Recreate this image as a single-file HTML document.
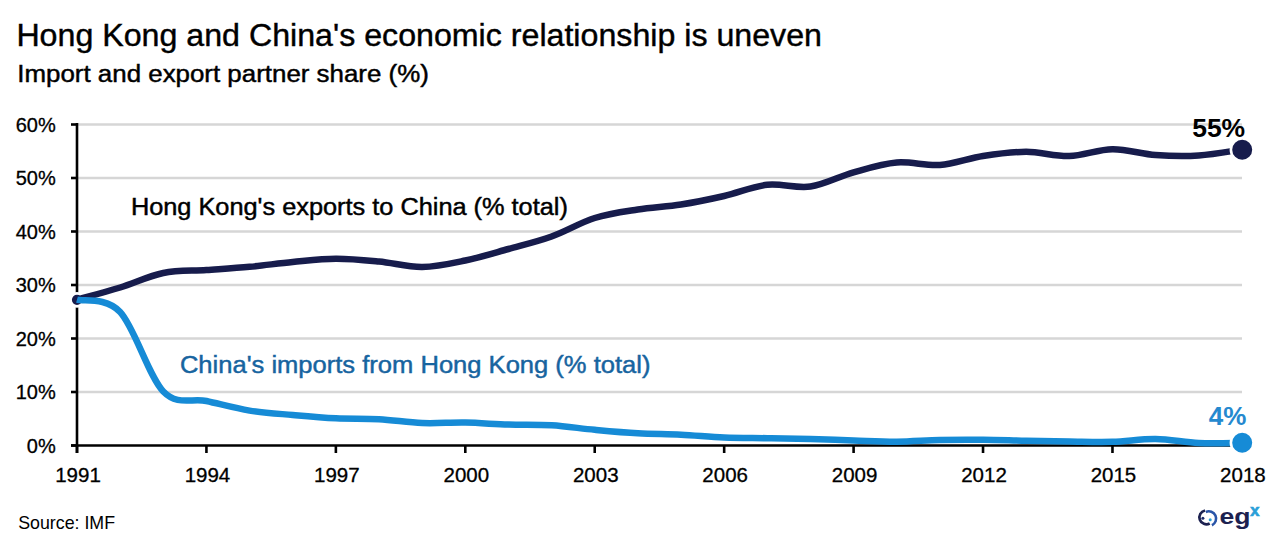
<!DOCTYPE html>
<html><head><meta charset="utf-8"><style>
html,body{margin:0;padding:0;background:#fff;}
body{width:1280px;height:547px;overflow:hidden;}
svg{display:block;font-family:"Liberation Sans",sans-serif;}
</style></head><body>
<svg width="1280" height="547" viewBox="0 0 1280 547">
<rect width="1280" height="547" fill="#fff"/>
<text x="16.4" y="46.3" font-size="31" fill="#000" stroke="#000" stroke-width="0.4" textLength="805.6" lengthAdjust="spacingAndGlyphs">Hong Kong and China's economic relationship is uneven</text>
<text x="17.3" y="81.7" font-size="23.5" fill="#000" stroke="#000" stroke-width="0.45" textLength="411.5" lengthAdjust="spacingAndGlyphs">Import and export partner share (%)</text>
<g stroke="#d6d6d6" stroke-width="2.6"><line x1="77" y1="124.5" x2="1242" y2="124.5" /><line x1="77" y1="178.0" x2="1242" y2="178.0" /><line x1="77" y1="231.5" x2="1242" y2="231.5" /><line x1="77" y1="285.0" x2="1242" y2="285.0" /><line x1="77" y1="338.5" x2="1242" y2="338.5" /><line x1="77" y1="392.0" x2="1242" y2="392.0" /></g>
<g stroke="#000" stroke-width="2.6">
<line x1="77" y1="123" x2="77" y2="453" />
<line x1="71" y1="445.5" x2="1242" y2="445.5" />
<line x1="71" y1="124.5" x2="77" y2="124.5" /><line x1="71" y1="178.0" x2="77" y2="178.0" /><line x1="71" y1="231.5" x2="77" y2="231.5" /><line x1="71" y1="285.0" x2="77" y2="285.0" /><line x1="71" y1="338.5" x2="77" y2="338.5" /><line x1="71" y1="392.0" x2="77" y2="392.0" /><line x1="71" y1="445.5" x2="77" y2="445.5" />
<line x1="77.00" y1="445.5" x2="77.00" y2="453" /><line x1="206.43" y1="445.5" x2="206.43" y2="453" /><line x1="335.87" y1="445.5" x2="335.87" y2="453" /><line x1="465.30" y1="445.5" x2="465.30" y2="453" /><line x1="594.73" y1="445.5" x2="594.73" y2="453" /><line x1="724.17" y1="445.5" x2="724.17" y2="453" /><line x1="853.60" y1="445.5" x2="853.60" y2="453" /><line x1="983.03" y1="445.5" x2="983.03" y2="453" /><line x1="1112.47" y1="445.5" x2="1112.47" y2="453" /><line x1="1241.90" y1="445.5" x2="1241.90" y2="453" />
</g>
<g fill="#000" stroke="#000" stroke-width="0.3"><text x="55.7" y="131.7" text-anchor="end" font-size="20">60%</text><text x="55.7" y="185.2" text-anchor="end" font-size="20">50%</text><text x="55.7" y="238.7" text-anchor="end" font-size="20">40%</text><text x="55.7" y="292.2" text-anchor="end" font-size="20">30%</text><text x="55.7" y="345.7" text-anchor="end" font-size="20">20%</text><text x="55.7" y="399.2" text-anchor="end" font-size="20">10%</text><text x="55.7" y="452.7" text-anchor="end" font-size="20">0%</text> <text x="78.00" y="482.4" text-anchor="middle" font-size="20.5">1991</text><text x="207.43" y="482.4" text-anchor="middle" font-size="20.5">1994</text><text x="336.87" y="482.4" text-anchor="middle" font-size="20.5">1997</text><text x="466.30" y="482.4" text-anchor="middle" font-size="20.5">2000</text><text x="595.73" y="482.4" text-anchor="middle" font-size="20.5">2003</text><text x="725.17" y="482.4" text-anchor="middle" font-size="20.5">2006</text><text x="854.60" y="482.4" text-anchor="middle" font-size="20.5">2009</text><text x="984.03" y="482.4" text-anchor="middle" font-size="20.5">2012</text><text x="1113.47" y="482.4" text-anchor="middle" font-size="20.5">2015</text><text x="1242.90" y="482.4" text-anchor="middle" font-size="20.5">2018</text></g>
<text x="130.9" y="214.5" font-size="23.5" fill="#000" stroke="#000" stroke-width="0.45" textLength="437" lengthAdjust="spacingAndGlyphs">Hong Kong's exports to China (% total)</text>
<text x="179.9" y="372.7" font-size="23.5" fill="#17649f" stroke="#17649f" stroke-width="0.45" textLength="470.6" lengthAdjust="spacingAndGlyphs">China's imports from Hong Kong (% total)</text>
<circle cx="77" cy="299.8" r="6.5" fill="#171c4c" stroke="#fff" stroke-width="2.8"/>
<path d="M77.00 299.70 C84.19 297.67 105.76 291.95 120.14 287.50 C134.53 283.05 148.91 275.92 163.29 273.00 C177.67 270.08 192.05 271.03 206.43 270.00 C220.81 268.97 235.20 268.13 249.58 266.80 C263.96 265.47 278.34 263.35 292.72 262.00 C307.10 260.65 321.49 258.78 335.87 258.70 C350.25 258.62 364.63 260.12 379.01 261.50 C393.39 262.88 407.77 267.17 422.16 267.00 C436.54 266.83 450.92 263.50 465.30 260.50 C479.68 257.50 494.06 253.00 508.44 249.00 C522.83 245.00 537.21 241.67 551.59 236.50 C565.97 231.33 580.35 222.50 594.73 218.00 C609.11 213.50 623.50 211.75 637.88 209.50 C652.26 207.25 666.64 206.75 681.02 204.50 C695.40 202.25 709.79 199.28 724.17 196.00 C738.55 192.72 752.93 186.38 767.31 184.80 C781.69 183.22 796.07 188.58 810.46 186.50 C824.84 184.42 839.22 176.30 853.60 172.30 C867.98 168.30 882.36 163.72 896.74 162.50 C911.13 161.28 925.51 166.08 939.89 165.00 C954.27 163.92 968.65 158.20 983.03 156.00 C997.41 153.80 1011.80 151.80 1026.18 151.80 C1040.56 151.80 1054.94 156.43 1069.32 156.00 C1083.70 155.57 1098.09 149.37 1112.47 149.20 C1126.85 149.03 1141.23 153.95 1155.61 155.00 C1169.99 156.05 1184.37 156.40 1198.76 155.50 C1213.14 154.60 1234.71 150.58 1241.90 149.60" fill="none" stroke="#171c4c" stroke-width="6.5" stroke-linejoin="round"/>
<path d="M77.00 299.70 C84.19 301.75 105.76 296.70 120.14 312.00 C134.53 327.30 148.91 376.67 163.29 391.50 C177.67 406.33 192.05 397.82 206.43 401.00 C220.81 404.18 235.20 408.27 249.58 410.60 C263.96 412.93 278.34 413.72 292.72 415.00 C307.10 416.28 321.49 417.60 335.87 418.30 C350.25 419.00 364.63 418.42 379.01 419.20 C393.39 419.98 407.77 422.43 422.16 423.00 C436.54 423.57 450.92 422.33 465.30 422.60 C479.68 422.87 494.06 424.15 508.44 424.60 C522.83 425.05 537.21 424.43 551.59 425.30 C565.97 426.17 580.35 428.47 594.73 429.80 C609.11 431.13 623.50 432.48 637.88 433.30 C652.26 434.12 666.64 434.00 681.02 434.70 C695.40 435.40 709.79 436.92 724.17 437.50 C738.55 438.08 752.93 437.95 767.31 438.20 C781.69 438.45 796.07 438.62 810.46 439.00 C824.84 439.38 839.22 440.05 853.60 440.50 C867.98 440.95 882.36 441.78 896.74 441.70 C911.13 441.62 925.51 440.32 939.89 440.00 C954.27 439.68 968.65 439.67 983.03 439.80 C997.41 439.93 1011.80 440.52 1026.18 440.80 C1040.56 441.08 1054.94 441.33 1069.32 441.50 C1083.70 441.67 1098.09 442.22 1112.47 441.80 C1126.85 441.38 1141.23 438.80 1155.61 439.00 C1169.99 439.20 1184.37 442.35 1198.76 443.00 C1213.14 443.65 1234.71 442.92 1241.90 442.90" fill="none" stroke="#168bd6" stroke-width="6.5" stroke-linejoin="round"/>
<circle cx="1242.2" cy="149.7" r="11.3" fill="#171c4c" stroke="#fff" stroke-width="2.6"/>
<circle cx="1242.2" cy="442.7" r="11.3" fill="#168bd6" stroke="#fff" stroke-width="2.6"/>
<text x="1245.2" y="137" font-size="26.5" font-weight="bold" text-anchor="end" fill="#000">55%</text>
<text x="1246.3" y="425" font-size="26" font-weight="bold" text-anchor="end" fill="#2589cf">4%</text>
<text x="18.2" y="529.1" font-size="17.8" fill="#000">Source: IMF</text>
<g>
<path d="M1205 510.46 A7 7 0 1 0 1209.7 523.5" fill="none" stroke="#1c2150" stroke-width="2.7" stroke-linecap="butt"/>
<path d="M1205.8 512.0 A6.6 6.6 0 1 1 1211.9 525.2" fill="none" stroke="#2a55a8" stroke-width="2.6" stroke-linecap="butt"/>
<circle cx="1202.9" cy="518.3" r="1.5" fill="#1c2a6a"/>
<circle cx="1210.2" cy="519.7" r="1.5" fill="#2a9fd8"/>
<text x="1219.5" y="523.8" font-size="22" font-weight="bold" fill="#1c2150" textLength="31" lengthAdjust="spacingAndGlyphs">eg</text>
<text x="1250.3" y="515.9" font-size="16.5" font-weight="bold" fill="#2a9fd8" stroke="#2a9fd8" stroke-width="0.7">x</text>
</g>
</svg>
</body></html>
